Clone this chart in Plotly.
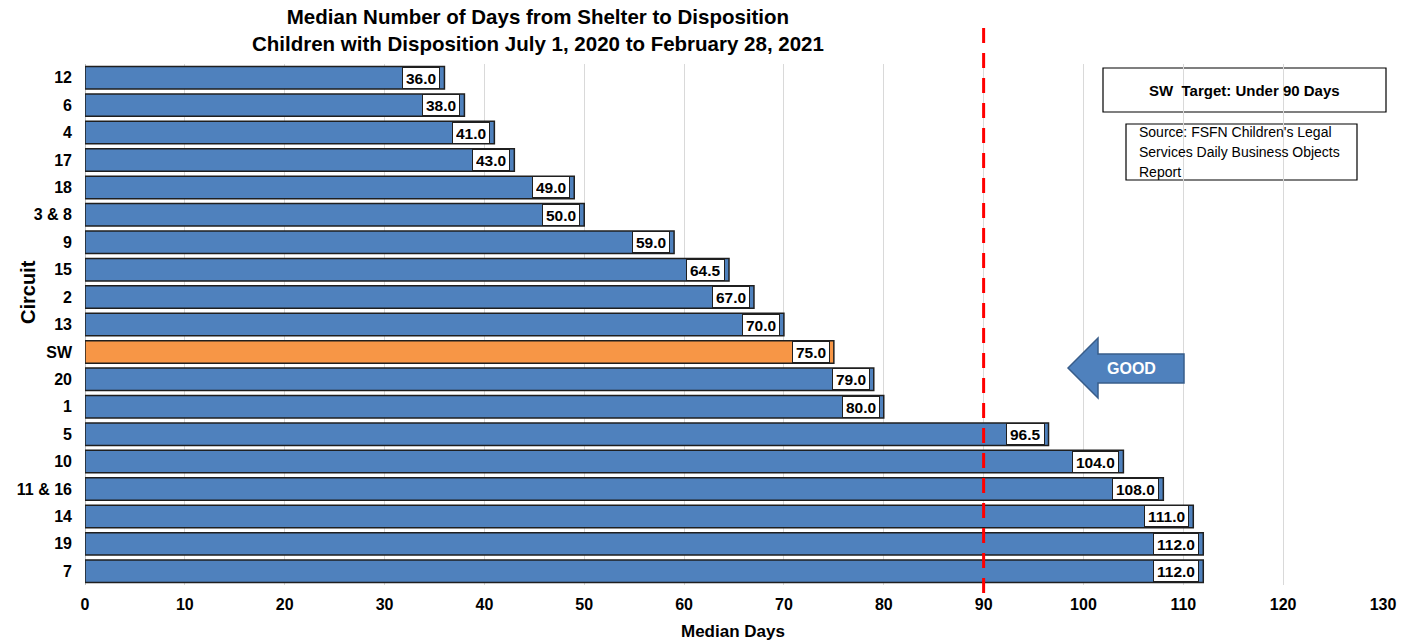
import plotly.graph_objects as go

# Median days from shelter to disposition, by circuit (top to bottom)
circuits = ["12", "6", "4", "17", "18", "3 & 8", "9", "15", "2", "13", "SW",
            "20", "1", "5", "10", "11 & 16", "14", "19", "7"]
median_days = [36.0, 38.0, 41.0, 43.0, 49.0, 50.0, 59.0, 64.5, 67.0, 70.0, 75.0,
               79.0, 80.0, 96.5, 104.0, 108.0, 111.0, 112.0, 112.0]
target_days = 90
x_ticks = list(range(0, 131, 10))

BLUE = "#4F81BD"
ORANGE = "#F79646"
FONT = "Liberation Sans, Arial, sans-serif"

# page geometry (pixels)
W, H = 1416, 644
ML, MR, MT, MB = 85, 33, 64, 59
PW, PH = W - ML - MR, H - MT - MB


def px_x(px):
    return (px - ML) / PW


def px_y(py):
    return (H - MB - py) / PH


rows = list(range(len(circuits)))
colors = [ORANGE if c == "SW" else BLUE for c in circuits]

fig = go.Figure()
fig.add_trace(go.Bar(
    x=median_days, y=rows, orientation="h",
    marker=dict(color=colors, line=dict(color="#1f1f1f", width=1.5)),
    customdata=circuits, hovertemplate="Circuit %{customdata}: %{x}<extra></extra>",
))

annotations = []
# value labels in white boxes at the inside end of each bar
for r, v in zip(rows, median_days):
    annotations.append(dict(
        x=v, y=r, xref="x", yref="y", text=f"<b>{v:.1f}</b>",
        xanchor="right", yanchor="middle", xshift=-4, showarrow=False,
        font=dict(family=FONT, size=15.5, color="#000000"),
        bgcolor="#FFFFFF", bordercolor="#1f1f1f", borderwidth=1, borderpad=3,
        height=14,
    ))

# title
annotations.append(dict(
    x=px_x(538), y=px_y(30), xref="paper", yref="paper",
    text="<b>Median Number of Days from Shelter to Disposition<br>"
         "Children with Disposition July 1, 2020 to February 28, 2021</b>",
    showarrow=False, xanchor="center", yanchor="middle",
    font=dict(family=FONT, size=20.5, color="#000000"),
))
# axis titles
annotations.append(dict(
    x=px_x(28), y=px_y(292), xref="paper", yref="paper", text="<b>Circuit</b>",
    textangle=-90, showarrow=False, xanchor="center", yanchor="middle",
    font=dict(family=FONT, size=20, color="#000000"),
))
annotations.append(dict(
    x=px_x(733), y=px_y(631), xref="paper", yref="paper", text="<b>Median Days</b>",
    showarrow=False, xanchor="center", yanchor="middle",
    font=dict(family=FONT, size=17, color="#000000"),
))
# target box
annotations.append(dict(
    x=px_x(1244.5), y=px_y(90), xref="paper", yref="paper",
    text="<b>SW  Target: Under 90 Days</b>", showarrow=False,
    xanchor="center", yanchor="middle",
    font=dict(family=FONT, size=15, color="#000000"),
))
# source note
for i, line in enumerate(["Source: FSFN Children's Legal",
                          "Services Daily Business Objects",
                          "Report"]):
    annotations.append(dict(
        x=px_x(1137), y=px_y(132 + 20 * i), xref="paper", yref="paper",
        text=line, showarrow=False, xanchor="left", yanchor="middle",
        font=dict(family=FONT, size=14, color="#000000"),
    ))
# arrow label
annotations.append(dict(
    x=px_x(1131), y=px_y(368), xref="paper", yref="paper", text="<b>GOOD</b>",
    showarrow=False, xanchor="center", yanchor="middle",
    font=dict(family=FONT, size=16, color="#FFFFFF"),
))

shapes = [
    # target line, drawn top to bottom so the dash pattern starts at the top
    dict(type="line", xref="x", yref="paper", x0=target_days, x1=target_days,
         y0=px_y(28), y1=px_y(600),
         line=dict(color="#FF0000", width=3, dash="15px,10px")),
    # target box frame
    dict(type="rect", xref="paper", yref="paper",
         x0=px_x(1103), x1=px_x(1386), y0=px_y(112), y1=px_y(68),
         line=dict(color="#000000", width=1.2), fillcolor="#FFFFFF", layer="below"),
    # source box frame
    dict(type="rect", xref="paper", yref="paper",
         x0=px_x(1126), x1=px_x(1357), y0=px_y(180), y1=px_y(124),
         line=dict(color="#000000", width=1.2), fillcolor="#FFFFFF", layer="below"),
]

# left-pointing block arrow
tip_x, head_x, end_x = px_x(1068), px_x(1098), px_x(1184)
tip_y = px_y(368)
head_top, head_bot = px_y(338), px_y(398)
body_top, body_bot = px_y(354), px_y(383)
path = (f"M {tip_x},{tip_y} L {head_x},{head_top} L {head_x},{body_top} "
        f"L {end_x},{body_top} L {end_x},{body_bot} L {head_x},{body_bot} "
        f"L {head_x},{head_bot} Z")
shapes.append(dict(type="path", xref="paper", yref="paper", path=path,
                   fillcolor=BLUE, line=dict(color="#385D8A", width=1.5)))

fig.update_layout(
    width=W, height=H,
    margin=dict(l=ML, r=MR, t=MT, b=MB, pad=0),
    paper_bgcolor="#FFFFFF", plot_bgcolor="#FFFFFF",
    bargap=0.18,
    showlegend=False,
    font=dict(family=FONT, color="#000000"),
    xaxis=dict(
        range=[0, 130], tickvals=x_ticks, ticktext=[f"<b>{t}</b>" for t in x_ticks],
        showgrid=True, gridcolor="#D9D9D9", gridwidth=1,
        zeroline=True, zerolinecolor="#BFBFBF", zerolinewidth=1,
        showline=False, ticks="", ticklabelstandoff=8,
        tickfont=dict(family=FONT, size=16, color="#000000"),
        fixedrange=True,
    ),
    yaxis=dict(
        type="linear", range=[len(circuits) - 0.5, -0.5],
        tickvals=rows, ticktext=[f"<b>{c}</b>" for c in circuits],
        showgrid=False, zeroline=False, showline=False, ticks="",
        ticklabelstandoff=12,
        tickfont=dict(family=FONT, size=16, color="#000000"),
        fixedrange=True,
    ),
    annotations=annotations,
    shapes=shapes,
)

fig.write_html("out.html")
